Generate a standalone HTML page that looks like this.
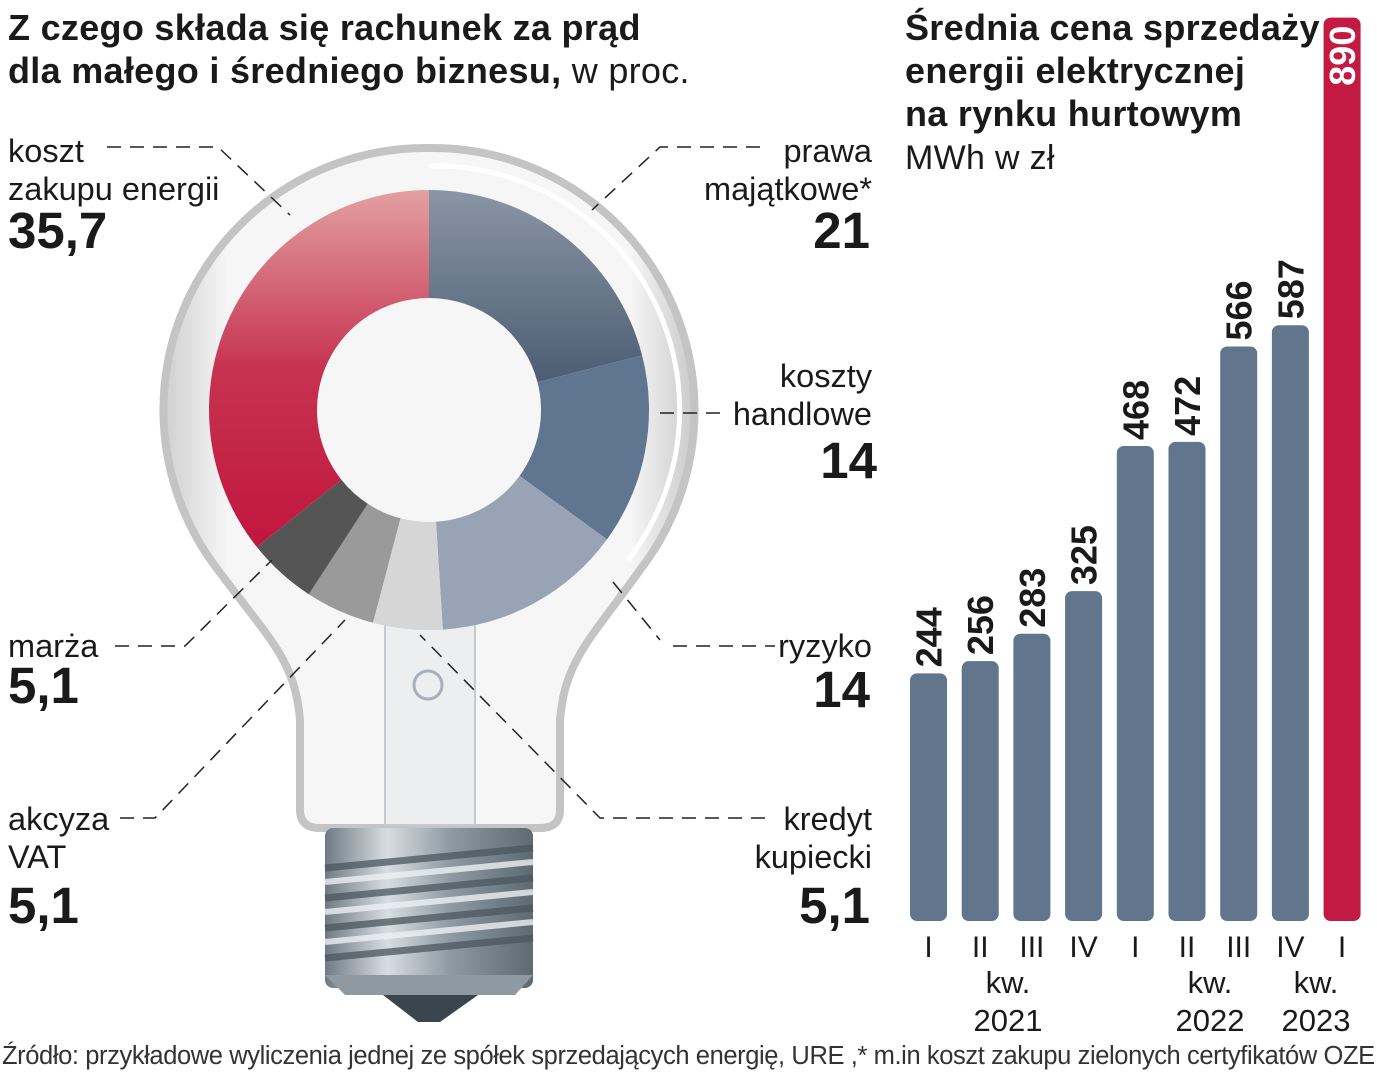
<!DOCTYPE html>
<html><head><meta charset="utf-8"><style>
body{margin:0;width:1377px;height:1080px;background:#fff;overflow:hidden;position:relative;font-family:"Liberation Sans",sans-serif;color:#1a1a1a}
.t{position:absolute;white-space:nowrap}
.h{font-weight:bold;font-size:36px;line-height:43px;letter-spacing:0.3px}
.l{font-size:32.5px;line-height:38px}
.v{font-weight:bold;font-size:51px;line-height:50px}
</style></head><body>
<div class="t h" style="left:8px;top:6px">Z czego składa się rachunek za prąd<br>dla małego i średniego biznesu, <span style="font-weight:normal">w proc.</span></div>
<div class="t h" style="left:905px;top:6px">Średnia cena sprzedaży<br>energii elektrycznej<br>na rynku hurtowym<br><span style="font-weight:normal;font-size:34px">MWh w zł</span></div>

<svg width="1377" height="1080" style="position:absolute;left:0;top:0">
<defs>
<linearGradient id="glass" x1="0" x2="1"><stop offset="0" stop-color="#cfcfcf"/><stop offset="0.12" stop-color="#f6f6f6"/><stop offset="0.88" stop-color="#f6f6f6"/><stop offset="1" stop-color="#cacaca"/></linearGradient>
<linearGradient id="metal" x1="0" x2="1"><stop offset="0" stop-color="#6f7b84"/><stop offset="0.3" stop-color="#d8dde2"/><stop offset="0.6" stop-color="#8f9aa4"/><stop offset="1" stop-color="#5d6a72"/></linearGradient>
<linearGradient id="red" x1="0" y1="0" x2="0" y2="1"><stop offset="0" stop-color="#e3a0a3"/><stop offset="0.5" stop-color="#c63350"/><stop offset="1" stop-color="#c1163e"/></linearGradient>
<linearGradient id="slate" x1="0" y1="0" x2="0" y2="1"><stop offset="0" stop-color="#8a95a5"/><stop offset="1" stop-color="#4c5d73"/></linearGradient>
</defs>
<g>
<path d="M429,148 A262,262 0 0 1 640,570 C590,640 565,660 560,720 L560,810 Q560,828 540,828 L320,828 Q300,828 300,810 L300,720 C295,660 270,640 218,570 A262,262 0 0 1 429,148 Z" fill="url(#glass)" stroke="#c4c4c4" stroke-width="8"/>
<path d="M429,166 A244,244 0 0 1 628,560" fill="none" stroke="#fff" stroke-width="5"/>
<rect x="385" y="620" width="90" height="205" fill="#eceef0" stroke="#c4cad0" stroke-width="2"/>
<circle cx="428" cy="685" r="14" fill="none" stroke="#a7b0ba" stroke-width="3"/>
<rect x="325" y="828" width="208" height="160" rx="8" fill="url(#metal)"/>
<g stroke="#4b565e" stroke-width="7" opacity="0.75">
<line x1="325" y1="868" x2="533" y2="848"/><line x1="325" y1="898" x2="533" y2="878"/><line x1="325" y1="928" x2="533" y2="908"/><line x1="325" y1="958" x2="533" y2="938"/></g>
<g stroke="#eef1f4" stroke-width="6" opacity="0.8">
<line x1="325" y1="882" x2="533" y2="862"/><line x1="325" y1="912" x2="533" y2="892"/><line x1="325" y1="942" x2="533" y2="922"/></g>
<path d="M325,975 L533,975 L515,995 L345,995 Z" fill="#8e99a2"/>
<path d="M383,995 L478,995 L440,1022 L418,1022 Z" fill="#3b454d"/>
</g>
<g id="donut"></g>
<g id="leaders" stroke="#222" stroke-width="1.5" stroke-dasharray="14,9" fill="none">
<path d="M107,147 L218,147 L290,215"/><path d="M760,147 L660,147 L592,210"/>
<path d="M660,413 L722,413"/><path d="M115,646 L185,646 L272,560"/>
<path d="M613,582 L660,640"/><path d="M673,646 L775,646"/><path d="M120,818 L155,818 L345,620"/>
<path d="M765,818 L600,818 L420,635"/>
</g>
<g id="bars"></g>
</svg>

<div class="t l" style="left:8px;top:132px">koszt<br>zakupu energii</div>
<div class="t v" style="left:8px;top:206px">35,7</div>
<div class="t l" style="right:505px;top:132px;text-align:right">prawa<br>majątkowe*</div>
<div class="t v" style="right:507px;top:206px">21</div>
<div class="t l" style="right:505px;top:357px;text-align:right">koszty<br>handlowe</div>
<div class="t v" style="right:500px;top:436px">14</div>
<div class="t l" style="left:8px;top:627px">marża</div>
<div class="t v" style="left:8px;top:661px">5,1</div>
<div class="t l" style="right:505px;top:627px">ryzyko</div>
<div class="t v" style="right:507px;top:665px">14</div>
<div class="t l" style="left:8px;top:800px">akcyza<br>VAT</div>
<div class="t v" style="left:8px;top:881px">5,1</div>
<div class="t l" style="right:505px;top:800px;text-align:right">kredyt<br>kupiecki</div>
<div class="t v" style="right:507px;top:881px">5,1</div>
<div class="t" style="left:2px;top:1042px;font-size:25.5px;color:#333;letter-spacing:-0.4px">Źródło: przykładowe wyliczenia jednej ze spółek sprzedających energię, URE ,* m.in koszt zakupu zielonych certyfikatów OZE</div>

<script>
const sliceNames=["prawa-majatkowe","koszty-handlowe","ryzyko","kredyt-kupiecki","akcyza-vat","marza","koszt-zakupu-energii"];
const sliceValues=[21,14,14,5.1,5.1,5.1,35.7];
const sliceColors=["url(#slate)","#5f7590","#98a4b5","#d6d6d6","#9a9a9a","#555555","url(#red)"];
const quarters=["I","II","III","IV","I","II","III","IV","I"];
const prices=[244,256,283,325,468,472,566,587,890];
const years=[["kw.","2021",1008],["kw.","2022",1210],["kw.","2023",1316]];
const NS="http://www.w3.org/2000/svg";
const cx=429,cy=410,R=220,r=112;
const total=sliceValues.reduce((a,b)=>a+b,0);
let a0=0;
const dg=document.getElementById('donut');
function pt(rad,a){return [cx+rad*Math.sin(a),cy-rad*Math.cos(a)];}
sliceValues.forEach((v,i)=>{
 const a1=a0+v/total*2*Math.PI;
 const [x1,y1]=pt(R,a0),[x2,y2]=pt(R,a1),[x3,y3]=pt(r,a1),[x4,y4]=pt(r,a0);
 const lg=(a1-a0)>Math.PI?1:0;
 const p=document.createElementNS(NS,'path');
 p.setAttribute('d',`M${x1},${y1} A${R},${R} 0 ${lg} 1 ${x2},${y2} L${x3},${y3} A${r},${r} 0 ${lg} 0 ${x4},${y4}Z`);
 p.setAttribute('fill',sliceColors[i]);
 
 
 dg.appendChild(p);
 a0=a1;
});
const bg=document.getElementById('bars');
const base=921,scale=1.015,x0=910,step=51.7,bw=37;
function yv(v){return base-v*scale;}
prices.forEach((v,i)=>{
 const x=x0+i*step;
 const b=document.createElementNS(NS,'rect');
 b.setAttribute('x',x);b.setAttribute('y',yv(v));b.setAttribute('width',bw);b.setAttribute('height',base-yv(v));
 b.setAttribute('rx',7);b.setAttribute('fill',i==8?'#c21a42':'#61758d');
 
 
 bg.appendChild(b);
 const t=document.createElementNS(NS,'text');
 const tx=x+bw/2+13, ty=i==8?yv(v)+8:yv(v)-6;
 t.setAttribute('transform',`translate(${tx},${ty}) rotate(-90)`);
 t.setAttribute('text-anchor',i==8?'end':'start');
 t.setAttribute('font-size','36');t.setAttribute('font-weight','bold');
 t.setAttribute('fill',i==8?'#fff':'#1a1a1a');
 t.setAttribute('font-family','Liberation Sans');
 t.textContent=v;
 
 
 bg.appendChild(t);
 const q=document.createElementNS(NS,'text');
 q.setAttribute('x',x+bw/2);q.setAttribute('y',957);q.setAttribute('text-anchor','middle');
 q.setAttribute('font-size','30');q.setAttribute('font-family','Liberation Sans');q.setAttribute('fill','#1a1a1a');
 q.textContent=quarters[i];
 
 
 bg.appendChild(q);
});
years.forEach(y=>{
 [[y[0],993],[y[1],1031]].forEach(([s,yy])=>{
  const t=document.createElementNS(NS,'text');
  t.setAttribute('x',y[2]);t.setAttribute('y',yy);t.setAttribute('text-anchor','middle');
  t.setAttribute('font-size','31');t.setAttribute('font-family','Liberation Sans');t.setAttribute('fill','#1a1a1a');
  t.textContent=s;
  
  
  bg.appendChild(t);
 });
});
</script>
</body></html>
